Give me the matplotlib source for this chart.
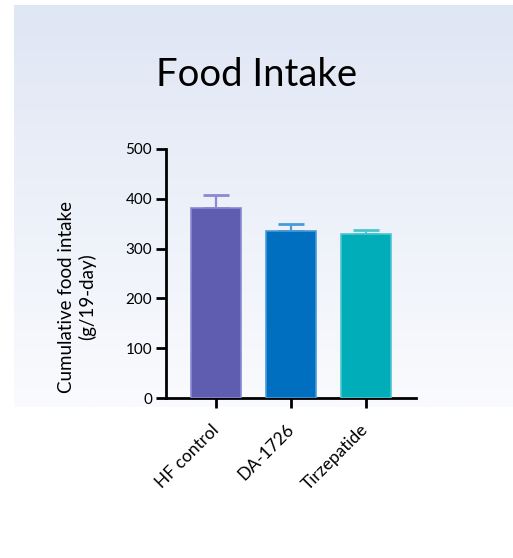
import matplotlib
matplotlib.use('Agg')
import matplotlib.pyplot as plt
import numpy as np

plt.rcParams['font.family'] = ['Lato', 'DejaVu Sans']

groups = ['HF control', 'DA-1726', 'Tirzepatide']
intake = [381, 336, 330]
sem = [27, 14, 7]
bar_colors = ['#5f5db0', '#006fbf', '#00adb8']
edge_colors = ['#8a89d2', '#4a9ad8', '#4cc6cf']
yticks = [0, 100, 200, 300, 400, 500]

fig = plt.figure(figsize=(5.13, 5.58), dpi=100)

# light blue gradient panel behind the chart
bg = fig.add_axes([14 / 513, 1 - 407 / 558, 1 - 14 / 513, (407 - 5) / 558], zorder=-10)
grad = np.linspace(0, 1, 256).reshape(-1, 1)
top = np.array([0xdf, 0xe6, 0xf4]) / 255
bot = np.array([0xfa, 0xfb, 0xfe]) / 255
img = top[None, None, :] * (1 - grad[:, :, None]) + bot[None, None, :] * grad[:, :, None]
bg.imshow(img, aspect='auto', extent=[0, 1, 0, 1])
bg.axis('off')

ax = fig.add_axes([166 / 513, 1 - 398 / 558, 250 / 513, (398 - 149) / 558])
ax.patch.set_alpha(0)
x = np.arange(len(groups))
ax.bar(x, intake, width=0.67, color=bar_colors, edgecolor=edge_colors,
       linewidth=1.2, zorder=3)
for i in range(len(groups)):
    ax.errorbar(x[i], intake[i], yerr=[[0], [sem[i]]], fmt='none',
                ecolor=edge_colors[i], elinewidth=1.6, capsize=9.5,
                capthick=2, zorder=2)

ax.set_xlim(-0.675, 2.67)
ax.set_ylim(0, 500)
ax.set_yticks(yticks)
ax.set_xticks(x)
ax.set_xticklabels(groups, rotation=45, ha='right', va='center',
                   rotation_mode='anchor', fontsize=12.5)
ax.tick_params(axis='x', length=7, width=2, pad=14)
ax.tick_params(axis='y', length=7, width=2, pad=3, labelsize=11)
for s in ['top', 'right']:
    ax.spines[s].set_visible(False)
for s in ['left', 'bottom']:
    ax.spines[s].set_linewidth(2)

fig.text(257 / 513, 1 - 75 / 558, 'Food Intake', ha='center', va='center',
         fontsize=27.5)
fig.text(77 / 513, 1 - 297 / 558, 'Cumulative food intake\n(g/19-day)',
         rotation=90, ha='center', va='center', multialignment='center',
         fontsize=13.5, linespacing=1.2)

fig.savefig('out.png', dpi=100)
